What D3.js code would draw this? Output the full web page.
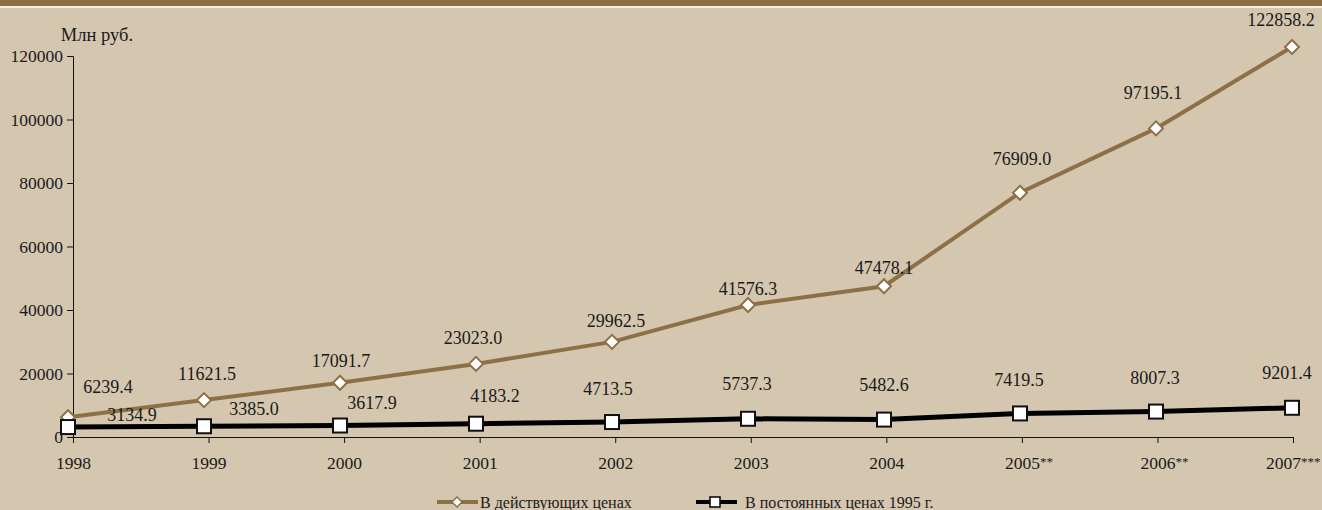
<!DOCTYPE html>
<html>
<head>
<meta charset="utf-8">
<script src="https://cdn.jsdelivr.net/npm/d3@7"></script>
<style>
  html, body { margin: 0; padding: 0; background: #d5c6b0; }
  svg { display: block; }
</style>
</head>
<body>
<div id="chart"></div>
<script>
// data
const years = ["1998", "1999", "2000", "2001", "2002", "2003", "2004", "2005", "2006", "2007"];
const yearLabels = ["1998", "1999", "2000", "2001", "2002", "2003", "2004", "2005**", "2006**", "2007***"];
const currentPrices = [6239.4, 11621.5, 17091.7, 23023.0, 29962.5, 41576.3, 47478.1, 76909.0, 97195.1, 122858.2];
const constantPrices = [3134.9, 3385.0, 3617.9, 4183.2, 4713.5, 5737.3, 5482.6, 7419.5, 8007.3, 9201.4];
const yTicks = [0, 20000, 40000, 60000, 80000, 100000, 120000];
const seriesNames = ["В действующих ценах", "В постоянных ценах 1995 г."];
const unitLabel = "Млн руб.";

// label nudges (layout only), [dx, dy] from the point
const curNudge = [[40, -30], [3, -26], [1, -22], [-3, -26], [4, -21], [0, -16], [0, -18], [2, -34], [-3, -35], [-11, -27]];
const conNudge = [[64, -12], [50, -17], [32, -23], [19, -28], [-4, -33], [-1, -35], [0, -35], [-1, -33], [-1, -34], [-5, -35]];

const W = 1322, H = 510;
const brown = "#8d7146";
const FONT = "'Liberation Serif', 'Times New Roman', serif";

const svg = d3.select("#chart").append("svg")
    .attr("width", W).attr("height", H);

svg.append("rect").attr("width", W).attr("height", H).attr("fill", "#d5c6b0");
// top band
svg.append("rect").attr("x", 0).attr("y", 0).attr("width", W).attr("height", 6).attr("fill", "#8c7045");
svg.append("rect").attr("x", 0).attr("y", 6).attr("width", W).attr("height", 2).attr("fill", "#f4efe6");

let xAxisScale = d3.scalePoint().domain(years).range([73, 1293]);
let x = d3.scalePoint().domain(years).range([68, 1292]);
let y = d3.scaleLinear().domain([0, 120000]).range([437, 56]);

function txt(sel, size) {
    return sel.style("font-family", FONT).style("font-size", (size || 17) + "px").attr("fill", "#1a1a1a");
}

// y axis
let gy = svg.append("g")
    .attr("transform", "translate(73,0)")
    .call(d3.axisLeft(y).tickValues(yTicks).tickSize(6).tickPadding(4).tickFormat(d3.format("d")));
gy.select(".domain").attr("stroke", "#111").attr("d", "M-6,56.5H0.5V437.5");
gy.selectAll(".tick line").attr("stroke", "#111");
txt(gy.selectAll(".tick text"), 17.5);

txt(svg.append("text").attr("x", 97).attr("y", 35)
    .attr("text-anchor", "middle").attr("dominant-baseline", "central"), 18.5)
    .text(unitLabel);

// x axis
let gx = svg.append("g")
    .attr("transform", "translate(0,437)")
    .call(d3.axisBottom(xAxisScale).tickSize(6).tickSizeOuter(0).tickPadding(14)
        .tickFormat((d, i) => yearLabels[i]));
gx.select(".domain").attr("stroke", "#111").attr("d", "M67,0.5H1293.5");
gx.selectAll(".tick line").attr("stroke", "#111");
gx.selectAll(".tick text").each(function(d, i) {
    const t = d3.select(this);
    const lbl = yearLabels[i];
    const num = lbl.replace(/\*/g, "");
    const stars = lbl.slice(num.length);
    txt(t.text(null), 17.5).attr("text-anchor", "start");
    const n = t.append("tspan").text(num);
    const numW = n.node().getComputedTextLength();
    if (stars) t.append("tspan").style("font-size", "13px").attr("dy", -3).text(stars);
    let start = -numW / 2;
    const w = this.getComputedTextLength();
    if (xAxisScale(d) + start + w > W - 2) start = W - 2 - xAxisScale(d) - w;
    t.attr("x", start);
});

// current prices series
const line = d3.line().x((d, i) => x(years[i])).y(d => y(d));

svg.append("path").datum(currentPrices)
    .attr("d", line).attr("fill", "none").attr("stroke", brown).attr("stroke-width", 4);
svg.selectAll(".dia").data(currentPrices).enter().append("path")
    .attr("class", "dia")
    .attr("transform", (d, i) => "translate(" + x(years[i]) + "," + y(d) + ")")
    .attr("d", "M0,-7L7,0L0,7L-7,0Z")
    .attr("fill", "#fff").attr("stroke", brown).attr("stroke-width", 2);

// constant prices series
svg.append("path").datum(constantPrices)
    .attr("d", line).attr("fill", "none").attr("stroke", "#000").attr("stroke-width", 5);
svg.selectAll(".sq").data(constantPrices).enter().append("rect")
    .attr("class", "sq")
    .attr("x", (d, i) => x(years[i]) - 7).attr("y", d => y(d) - 7)
    .attr("width", 14).attr("height", 14)
    .attr("fill", "#fff").attr("stroke", "#111").attr("stroke-width", 2);

// value labels
txt(svg.selectAll(".lc").data(currentPrices).enter().append("text")
    .attr("x", (d, i) => x(years[i]) + curNudge[i][0])
    .attr("y", (d, i) => y(d) + curNudge[i][1])
    .attr("text-anchor", "middle").attr("dominant-baseline", "central"), 18)
    .text(d => d.toFixed(1));
txt(svg.selectAll(".lk").data(constantPrices).enter().append("text")
    .attr("x", (d, i) => x(years[i]) + conNudge[i][0])
    .attr("y", (d, i) => y(d) + conNudge[i][1])
    .attr("text-anchor", "middle").attr("dominant-baseline", "central"), 18)
    .text(d => d.toFixed(1));

// legend
let lg1 = svg.append("g").attr("transform", "translate(437,502)");
lg1.append("line").attr("x1", 0).attr("x2", 41).attr("stroke", brown).attr("stroke-width", 4);
lg1.append("path").attr("transform", "translate(20,0)").attr("d", "M0,-5L5,0L0,5L-5,0Z")
    .attr("fill", "#fff").attr("stroke", brown).attr("stroke-width", 1.5);
txt(lg1.append("text").attr("x", 43).attr("dominant-baseline", "central"), 16).text(seriesNames[0]);

let lg2 = svg.append("g").attr("transform", "translate(696,502)");
lg2.append("line").attr("x1", 0).attr("x2", 41).attr("stroke", "#000").attr("stroke-width", 4);
lg2.append("rect").attr("x", 14).attr("y", -5).attr("width", 10).attr("height", 10)
    .attr("fill", "#fff").attr("stroke", "#000").attr("stroke-width", 1.5);
txt(lg2.append("text").attr("x", 49).attr("dominant-baseline", "central"), 16).text(seriesNames[1]);
</script>
</body>
</html>
